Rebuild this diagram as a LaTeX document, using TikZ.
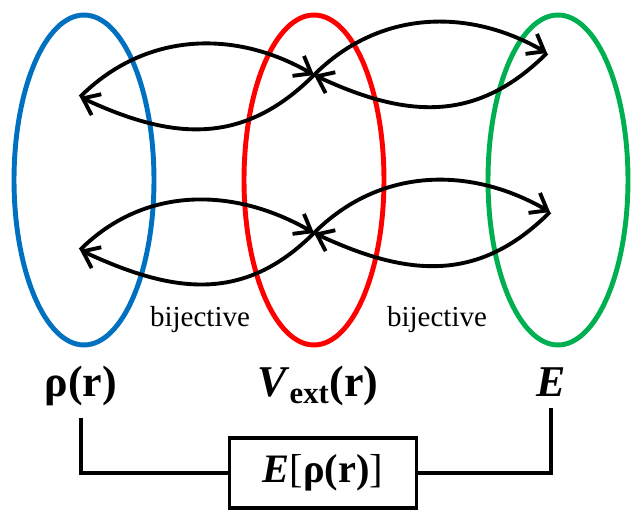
\documentclass[tikz,border=0pt]{standalone}
\usepackage{fontspec}
\setmainfont{Liberation Serif}
\usetikzlibrary{positioning,arrows.meta}
\definecolor{setblue}{HTML}{0070C0}
\definecolor{setred}{HTML}{FF0000}
\definecolor{setgreen}{HTML}{00B050}

\begin{document}
\begin{tikzpicture}[x=0.02cm,y=0.02cm,
          setring/.style={line width=2.8pt,x radius=1.4cm,y radius=3.3cm},
          map/.style={line width=2.2pt,-{Straight Barb[length=3mm,width=4.6mm,line width=2.2pt]}},
          qty/.style={font=\fontsize{25}{30}\selectfont\bfseries,inner sep=0pt,anchor=base},
          tag/.style={font=\fontsize{16.5}{18}\selectfont,inner sep=0pt,anchor=base},
          link/.style={line width=1.8pt},
          fnbox/.style={draw,line width=1.8pt,minimum width=3.74cm,minimum height=1.4cm,
                        font=\fontsize{23}{27}\selectfont}]
        \useasboundingbox (0,0) rectangle (637,518);
        % the three sets
        \draw[setblue,setring] (84,338) ellipse [];
        \draw[setred,setring] (314,338) ellipse [];
        \draw[setgreen,setring] (558,338) ellipse [];
        \coordinate (rho1) at (80,421);
        \coordinate (v1) at (314,443);
        \coordinate (e1) at (547,465);
        \coordinate (rho2) at (80,268);
        \coordinate (v2) at (314,285);
        \coordinate (e2) at (550,306);
        % mappings between the sets
        \foreach \a/\b in {rho1/v1,v1/e1,rho2/v2,v2/e2}{
          \draw[map] (\a) to[out=45,in=150] (\b);
          \draw[map] (\b) to[out=225,in=-25,looseness=1.1] (\a);
        }
        \node[tag] (bij1) at (200,191) {bijective};
        \node[tag] (bij2) at (437,191) {bijective};
        % quantities
        \node[qty] (rho) at (81,121) {ρ(r)};
        \node[qty] (vext) at (318,121) {\textit{V}\textsubscript{ext}(r)};
        \node[qty] (en) at (551,121) {\textit{E}};
        \node[fnbox] (fn) at (323,45) {\textbf{\textit{E}}[\textbf{ρ(r)}]};
        \draw[link,shorten <=0.22cm] (rho.south) |- (fn.west);
        \draw[link,shorten <=0.22cm] (en.south) |- (fn.east);
      \end{tikzpicture}
\end{document}
